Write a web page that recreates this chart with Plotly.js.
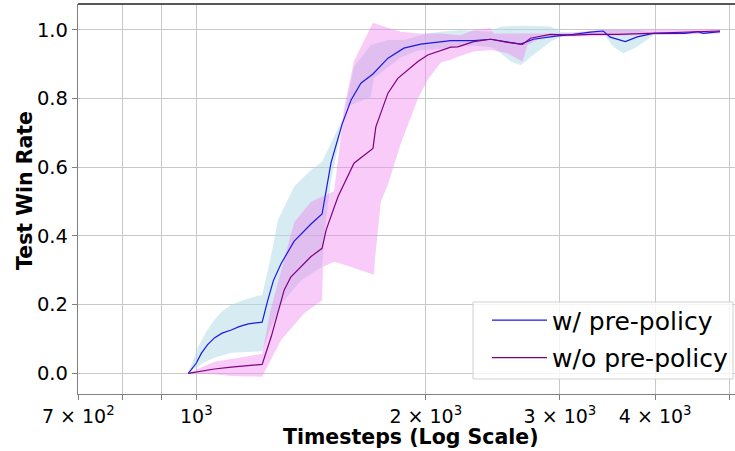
<!DOCTYPE html>
<html>
<head>
<meta charset="utf-8">
<script src="https://cdn.plot.ly/plotly-3.0.1.min.js"></script>
<style>html,body{margin:0;padding:0;background:#fff;}#chart{width:735px;height:451px;}</style>
</head>
<body>
<div id="chart"></div>
<script>
// ---- data (timesteps, win rate) ----
const seriesNames = ["w/ pre-policy", "w/o pre-policy"];
const xTitle = "Timesteps (Log Scale)";
const yTitle = "Test Win Rate";

const xWith = [976, 1000, 1015, 1034, 1056, 1081, 1111, 1138, 1170, 1195, 1220, 1240, 1262, 1292, 1344, 1414, 1462, 1502, 1553, 1596, 1644, 1705, 1784, 1872, 1970, 2157, 2312, 2434, 2561, 2663, 2769, 2979, 3124, 3288, 3419, 3492, 3655, 3789, 3976, 4379, 4554, 4623, 4866];
const yWith = [0, 0.03, 0.058, 0.083, 0.103, 0.117, 0.126, 0.136, 0.144, 0.147, 0.149, 0.21, 0.27, 0.32, 0.385, 0.435, 0.464, 0.613, 0.725, 0.796, 0.845, 0.872, 0.918, 0.947, 0.959, 0.969, 0.969, 0.973, 0.966, 0.959, 0.973, 0.983, 0.987, 0.994, 0.997, 0.979, 0.966, 0.98, 0.99, 0.99, 0.995, 0.99, 0.995];

const xWithUpper = [976, 1006, 1030, 1056, 1080, 1111, 1140, 1170, 1195, 1220, 1250, 1280, 1344, 1414, 1462, 1502, 1562, 1610, 1694, 1784, 1872, 2012, 2093, 2223, 2434, 2507, 2687, 2914, 3005, 3190, 3388, 3823, 3976, 4866];
const yWithUpper = [0, 0.078, 0.12, 0.155, 0.18, 0.199, 0.21, 0.218, 0.224, 0.228, 0.33, 0.447, 0.544, 0.592, 0.616, 0.67, 0.75, 0.893, 0.956, 0.971, 0.971, 0.99, 0.995, 1.0, 0.995, 1.01, 1.012, 1.01, 0.995, 0.99, 1.0, 1.0, 0.99, 1.0];

const xWithLower = [976, 1020, 1056, 1111, 1170, 1220, 1250, 1300, 1372, 1462, 1480, 1502, 1572, 1694, 1710, 1855, 1953, 2093, 2312, 2434, 2485, 2584, 2663, 2745, 2914, 3005, 3419, 3525, 3633, 3789, 3976, 4866];
const yWithLower = [0, 0.03, 0.045, 0.06, 0.063, 0.064, 0.13, 0.21, 0.27, 0.31, 0.45, 0.56, 0.776, 0.805, 0.86, 0.92, 0.94, 0.945, 0.955, 0.95, 0.94, 0.908, 0.898, 0.922, 0.966, 0.98, 0.99, 0.951, 0.932, 0.951, 0.985, 0.992];

const xWithout = [976, 1056, 1111, 1170, 1220, 1254, 1304, 1330, 1372, 1414, 1462, 1480, 1534, 1610, 1705, 1720, 1784, 1838, 1953, 2012, 2157, 2203, 2312, 2434, 2561, 2679, 2745, 2914, 3124, 3288, 3578, 3976, 4379, 4866];
const yWithout = [0, 0.0125, 0.018, 0.023, 0.026, 0.107, 0.243, 0.28, 0.311, 0.34, 0.364, 0.417, 0.514, 0.612, 0.655, 0.718, 0.816, 0.859, 0.908, 0.927, 0.95, 0.951, 0.966, 0.973, 0.964, 0.958, 0.976, 0.987, 0.985, 0.987, 0.987, 0.99, 0.993, 0.997];

const xWithoutUpper = [976, 1056, 1170, 1220, 1250, 1292, 1344, 1414, 1462, 1516, 1540, 1562, 1610, 1705, 1762, 1855, 1953, 2093, 2223, 2312, 2434, 2455, 2720, 3005, 3190, 3388, 4866];
const yWithoutUpper = [0, 0.034, 0.05, 0.057, 0.18, 0.30, 0.44, 0.50, 0.514, 0.53, 0.65, 0.77, 0.91, 1.021, 1.01, 0.995, 0.99, 0.99, 0.985, 1.0, 1.005, 0.99, 0.99, 0.99, 0.995, 1.0, 1.002];

const xWithoutLower = [976, 1056, 1111, 1220, 1226, 1292, 1385, 1462, 1466, 1516, 1572, 1710, 1715, 1746, 1784, 1855, 1953, 2012, 2093, 2157, 2203, 2312, 2434, 2561, 2679, 2720, 2829, 2979, 3288, 4866];
const yWithoutLower = [0, -0.003, -0.008, -0.01, 0.0, 0.097, 0.175, 0.213, 0.31, 0.325, 0.315, 0.287, 0.33, 0.50, 0.55, 0.67, 0.80, 0.855, 0.905, 0.913, 0.922, 0.937, 0.942, 0.932, 0.908, 0.956, 0.976, 0.98, 0.982, 0.99];

const xTickVals = [700, 800, 900, 1000, 2000, 3000, 4000, 5000];
const xTickText = ["7 \u00d7 10<sup>2</sup>", "", "", "10<sup>3</sup>", "2 \u00d7 10<sup>3</sup>", "3 \u00d7 10<sup>3</sup>", "4 \u00d7 10<sup>3</sup>", ""];
const yTickVals = [0, 0.2, 0.4, 0.6, 0.8, 1.0];

// ---- build ----
function band(xu, yu, xl, yl, color) {
  return {
    x: xu.concat(xl.slice().reverse()),
    y: yu.concat(yl.slice().reverse()),
    type: "scatter", mode: "lines", fill: "toself",
    fillcolor: color, line: {width: 0, color: "rgba(0,0,0,0)"},
    hoverinfo: "skip", showlegend: false
  };
}

const traces = [
  band(xWithUpper, yWithUpper, xWithLower, yWithLower, "rgba(173,216,230,0.5)"),
  band(xWithoutUpper, yWithoutUpper, xWithoutLower, yWithoutLower, "rgba(238,130,238,0.42)"),
  {x: xWith, y: yWith, type: "scatter", mode: "lines", name: seriesNames[0],
   line: {color: "#1a1ae6", width: 1.2}, legendgroup: "a"},
  {x: xWithout, y: yWithout, type: "scatter", mode: "lines", name: seriesNames[1],
   line: {color: "#800080", width: 1.2}, legendgroup: "b"}
];

const font = {family: "DejaVu Sans, sans-serif", color: "#000"};
const layout = {
  width: 735, height: 451,
  margin: {l: 78, r: 0, t: 4, b: 57},
  paper_bgcolor: "#fff", plot_bgcolor: "#fff",
  font: Object.assign({size: 19}, font),
  showlegend: true,
  xaxis: {
    type: "log", range: [2.8447, 3.7068],
    tickmode: "array", tickvals: xTickVals, ticktext: xTickText,
    showgrid: true, gridcolor: "#c8c8c8", gridwidth: 1,
    showline: true, linecolor: "#808080", linewidth: 1.2,
    ticks: "outside", ticklen: 5, tickcolor: "#808080",
    tickfont: Object.assign({size: 19}, font),
    zeroline: false
  },
  yaxis: {
    range: [-0.0603, 1.0757],
    tickmode: "array", tickvals: yTickVals, tickformat: ".1f",
    showgrid: true, gridcolor: "#c8c8c8", gridwidth: 1,
    showline: true, linecolor: "#808080", linewidth: 1.2,
    ticks: "outside", ticklen: 5, tickcolor: "#808080",
    tickfont: Object.assign({size: 19.5}, font),
    zeroline: false
  },
  legend: {
    x: 0.997, y: 0.035, xanchor: "right", yanchor: "bottom",
    bgcolor: "rgba(0,0,0,0)", borderwidth: 0,
    font: Object.assign({size: 25}, font),
    itemwidth: 55, tracegroupgap: 2
  },
  annotations: [
    {text: "<b>" + xTitle + "</b>", xref: "paper", yref: "paper", x: 0.5068, y: 0,
     xanchor: "center", yanchor: "middle", yshift: -43, showarrow: false,
     font: Object.assign({size: 20.5}, font)},
    {text: "<b>" + yTitle + "</b>", xref: "paper", yref: "paper", x: 0, y: 0.5205,
     xanchor: "center", yanchor: "middle", xshift: -53, textangle: -90, showarrow: false,
     font: Object.assign({size: 20.5}, font)}
  ],
  shapes: [
    {type: "line", xref: "paper", yref: "paper", x0: 0, x1: 1, y0: 1, y1: 1,
     line: {color: "#202020", width: 1.5}},
    {type: "rect", xref: "paper", yref: "paper", x0: 0.6012, x1: 0.9970, y0: 0.0385, y1: 0.2359,
     layer: "above", fillcolor: "rgba(255,255,255,0.8)", line: {color: "#d0d0d0", width: 1}}
  ]
};

Plotly.newPlot("chart", traces, layout, {displayModeBar: false, staticPlot: true});
</script>
</body>
</html>
